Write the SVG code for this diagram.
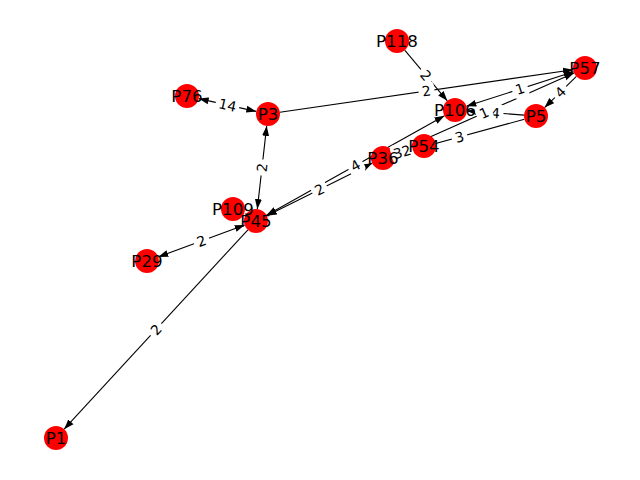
<svg xmlns="http://www.w3.org/2000/svg" width="640" height="480" viewBox="0 0 640 480">
<style>
.e{stroke:#000;stroke-width:1.1;fill:none}
.n{fill:#ff0000}
.nl{font-family:"DejaVu Sans",sans-serif;font-size:16.7px;text-anchor:middle;dominant-baseline:central;fill:#000}
.el{font-family:"DejaVu Sans",sans-serif;font-size:13.9px;text-anchor:middle;dominant-baseline:central;fill:#000}
.lb{fill:#fff}
</style>
<defs>
<marker id="ah" markerUnits="userSpaceOnUse" markerWidth="10" markerHeight="8" viewBox="0 0 10 8" refX="10" refY="4" orient="auto"><path d="M0,0.5 L10,4 L0,7.5 z" fill="#000"/></marker>
<marker id="as" markerUnits="userSpaceOnUse" markerWidth="10" markerHeight="8" viewBox="0 0 10 8" refX="10" refY="4" orient="auto-start-reverse"><path d="M0,0.5 L10,4 L0,7.5 z" fill="#000"/></marker>
</defs>
<rect width="640" height="480" fill="#fff"/>
<g id="edges">
<line class="e" x1="404.7" y1="50.2" x2="447.3" y2="100.8" marker-end="url(#ah)"/>
<line class="e" x1="279.9" y1="112.3" x2="573.1" y2="69.7" marker-end="url(#ah)"/>
<line class="e" x1="466.4" y1="106.3" x2="573.6" y2="71.7" marker-start="url(#as)" marker-end="url(#ah)"/>
<line class="e" x1="576.4" y1="76.4" x2="544.6" y2="107.6" marker-end="url(#ah)"/>
<line class="e" x1="524.0" y1="115.1" x2="467.0" y2="110.9" marker-end="url(#ah)"/>
<line class="e" x1="394.0" y1="153.1" x2="574.0" y2="72.9" marker-end="url(#ah)"/>
<line class="e" x1="524.4" y1="119.2" x2="394.6" y2="154.8" marker-end="url(#ah)"/>
<line class="e" x1="394.5" y1="154.6" x2="412.5" y2="149.4" marker-end="url(#ah)"/>
<line class="e" x1="198.7" y1="98.6" x2="256.3" y2="111.4" marker-start="url(#as)" marker-end="url(#ah)"/>
<line class="e" x1="266.7" y1="125.9" x2="257.3" y2="209.1" marker-start="url(#as)" marker-end="url(#ah)"/>
<line class="e" x1="158.3" y1="256.9" x2="244.7" y2="225.1" marker-start="url(#as)" marker-end="url(#ah)"/>
<line class="e" x1="247.9" y1="229.8" x2="64.1" y2="429.2" marker-end="url(#ah)"/>
<line class="e" x1="266.8" y1="215.7" x2="372.2" y2="163.3" marker-start="url(#as)" marker-end="url(#ah)"/>
<line class="e" x1="266.5" y1="215.2" x2="444.5" y2="115.8" marker-start="url(#as)" marker-end="url(#ah)"/>
</g>
<g id="P118"><circle class="n" cx="397" cy="41" r="12"/></g>
<g id="P57"><circle class="n" cx="585" cy="68" r="12"/></g>
<g id="P106"><circle class="n" cx="455" cy="110" r="12"/></g>
<g id="P5"><circle class="n" cx="536" cy="116" r="12"/></g>
<g id="P54"><circle class="n" cx="424" cy="146" r="12"/></g>
<g id="P36"><circle class="n" cx="383" cy="158" r="12"/></g>
<g id="P76"><circle class="n" cx="187" cy="96" r="12"/></g>
<g id="P3"><circle class="n" cx="268" cy="114" r="12"/></g>
<g id="P109"><circle class="n" cx="233" cy="209" r="12"/></g>
<g id="P45"><circle class="n" cx="256" cy="221" r="12"/></g>
<g id="P29"><circle class="n" cx="147" cy="261" r="12"/></g>
<g id="P1"><circle class="n" cx="56" cy="438" r="12"/></g>
<g id="edge-labels">
<g transform="translate(426,75.5) rotate(49.9)"><rect class="lb" x="-8" y="-9" width="16" height="18" rx="4"/><text class="el">2</text></g>
<g transform="translate(426.5,91) rotate(-8.3)"><rect class="lb" x="-8" y="-9" width="16" height="18" rx="4"/><text class="el">2</text></g>
<g transform="translate(520,89) rotate(-17.9)"><rect class="lb" x="-8" y="-9" width="16" height="18" rx="4"/><text class="el">1</text></g>
<g transform="translate(560.5,92) rotate(-44.4)"><rect class="lb" x="-8" y="-9" width="16" height="18" rx="4"/><text class="el">4</text></g>
<g transform="translate(495.5,113) rotate(4.2)"><rect class="lb" x="-8" y="-9" width="16" height="18" rx="4"/><text class="el">4</text></g>
<g transform="translate(484,113) rotate(-24)"><rect class="lb" x="-8" y="-9" width="16" height="18" rx="4"/><text class="el">1</text></g>
<g transform="translate(459.5,137) rotate(-15.3)"><rect class="lb" x="-8" y="-9" width="16" height="18" rx="4"/><text class="el">3</text></g>
<g transform="translate(402,152) rotate(-16.3)"><rect class="lb" x="-11" y="-9" width="22" height="18" rx="4"/><text class="el">32</text></g>
<g transform="translate(227.5,105) rotate(12.5)"><rect class="lb" x="-12" y="-9" width="24" height="18" rx="4"/><text class="el">14</text></g>
<g transform="translate(262,167.5) rotate(-83.6)"><rect class="lb" x="-8" y="-9" width="16" height="18" rx="4"/><text class="el">2</text></g>
<g transform="translate(201.5,241) rotate(-20.2)"><rect class="lb" x="-8" y="-9" width="16" height="18" rx="4"/><text class="el">2</text></g>
<g transform="translate(156,329.5) rotate(-47.3)"><rect class="lb" x="-8" y="-9" width="16" height="18" rx="4"/><text class="el">2</text></g>
<g transform="translate(319.5,189.5) rotate(-26.4)"><rect class="lb" x="-8" y="-9" width="16" height="18" rx="4"/><text class="el">2</text></g>
<g transform="translate(355.5,165.5) rotate(-29.2)"><rect class="lb" x="-8" y="-9" width="16" height="18" rx="4"/><text class="el">4</text></g>
</g>
<g id="node-labels">
<text class="nl" x="397" y="41">P118</text>
<text class="nl" x="585" y="68">P57</text>
<text class="nl" x="455" y="110">P106</text>
<text class="nl" x="536" y="116">P5</text>
<text class="nl" x="424" y="146">P54</text>
<text class="nl" x="383" y="158">P36</text>
<text class="nl" x="187" y="96">P76</text>
<text class="nl" x="268" y="114">P3</text>
<text class="nl" x="233" y="209">P109</text>
<text class="nl" x="256" y="221">P45</text>
<text class="nl" x="147" y="261">P29</text>
<text class="nl" x="56" y="438">P1</text>
</g>
</svg>
